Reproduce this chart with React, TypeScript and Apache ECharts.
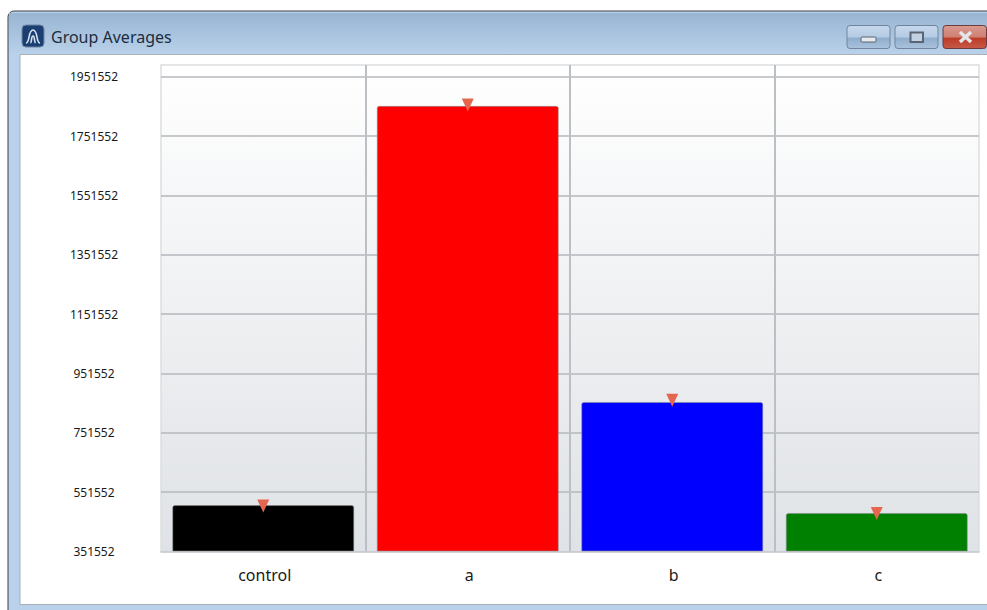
import React, { useEffect, useRef } from "react";
import * as echarts from "echarts";

const categories = ["control", "a", "b", "c"];
const groupAverages = [508000, 1853800, 855700, 481400];
const markerValues = [505000, 1857000, 861000, 480000];
const barColors = ["#000000", "#ff0000", "#0000ff", "#008000"];
const axisBase = 351552;
const title = "Group Averages";

echarts.graphic.registerShape(
  "winLogo",
  echarts.graphic.extendPath("M3 17 C7 17 5 4 10 4 C15 4 13 17 17 17 M7.5 17 C9 16 8 10 10 10 C12 10 11 16 12.5 17", {})
);

const btnGrad = new echarts.graphic.LinearGradient(0, 0, 0, 1, [
  { offset: 0, color: "#c6d8ec" },
  { offset: 0.5, color: "#b4cbe3" },
  { offset: 0.55, color: "#8fadcb" },
  { offset: 1, color: "#a9c3de" },
]);
const closeGrad = new echarts.graphic.LinearGradient(0, 0, 0, 1, [
  { offset: 0, color: "#d99a90" },
  { offset: 0.5, color: "#cf7f72" },
  { offset: 0.55, color: "#bd3a28" },
  { offset: 1, color: "#c85a48" },
]);
const glyphStroke = "#5a6474";

function chrome() {
  return [
    { type: "rect", z: -5, shape: { x: 8, y: 11, width: 985, height: 610, r: [6, 0, 0, 0] }, style: { fill: "#b9d1ea", stroke: "#3a3f45", lineWidth: 1 } },
    {
      type: "rect", z: -4, shape: { x: 9, y: 13, width: 980, height: 41 },
      style: { fill: new echarts.graphic.LinearGradient(0, 0, 0, 1, [{ offset: 0, color: "#98b5d3" }, { offset: 1, color: "#b9d1ea" }]) },
    },
    { type: "rect", z: -3, shape: { x: 20, y: 54.5, width: 970, height: 550 }, style: { fill: "#ffffff", stroke: "#a9afb5", lineWidth: 1 } },
    { type: "rect", z: 5, shape: { x: 22, y: 25, width: 22, height: 22, r: 4 }, style: { fill: "#1c3f73", stroke: "#6f86a3", lineWidth: 1 } },
    { type: "winLogo", z: 6, x: 23, y: 26, style: { fill: "none", stroke: "#d5e2ee", lineWidth: 1.6 } },
    { type: "text", z: 6, x: 51, y: 37, style: { text: title, font: "16px 'Noto Sans'", fill: "#202c3c", verticalAlign: "middle", align: "left" } },
    { type: "rect", z: 5, shape: { x: 847, y: 25.5, width: 43, height: 23, r: 3 }, style: { fill: btnGrad, stroke: "#72859c", lineWidth: 1 } },
    { type: "rect", z: 6, shape: { x: 861, y: 37, width: 15, height: 5, r: 1 }, style: { fill: "#e6e9ee", stroke: glyphStroke, lineWidth: 1 } },
    { type: "rect", z: 5, shape: { x: 895, y: 25.5, width: 43, height: 23, r: 3 }, style: { fill: btnGrad, stroke: "#72859c", lineWidth: 1 } },
    { type: "rect", z: 6, shape: { x: 910.5, y: 32.5, width: 12.5, height: 9.5 }, style: { fill: "#c3d2e2", stroke: glyphStroke, lineWidth: 2 } },
    { type: "rect", z: 5, shape: { x: 943, y: 25.5, width: 43.5, height: 23, r: 3 }, style: { fill: closeGrad, stroke: "#6d3a3e", lineWidth: 1 } },
    { type: "line", z: 6, shape: { x1: 960, y1: 32, x2: 971, y2: 42 }, style: { stroke: "#e4e6ea", lineWidth: 3.5 } },
    { type: "line", z: 6, shape: { x1: 971, y1: 32, x2: 960, y2: 42 }, style: { stroke: "#e4e6ea", lineWidth: 3.5 } },
  ];
}

export default function App() {
  const ref = useRef<HTMLDivElement>(null);
  useEffect(() => {
    document.body.style.margin = "0";
    const chart = echarts.init(ref.current!, null, { renderer: "svg" });
    chart.setOption({
      animation: false,
      backgroundColor: "#ffffff",
      graphic: { elements: chrome() },
      grid: {
        left: 161, top: 65, width: 818, height: 486.5, show: true,
        borderWidth: 1.5, borderColor: "#dcdee1",
        backgroundColor: new echarts.graphic.LinearGradient(0, 0, 0, 1, [
          { offset: 0, color: "#ffffff" },
          { offset: 1, color: "#dfe2e6" },
        ]),
      },
      xAxis: {
        type: "category",
        data: categories,
        axisLine: { show: true, lineStyle: { color: "#c4c7cb", width: 1.5 } },
        axisTick: { show: false },
        axisLabel: { color: "#1a1a1a", fontFamily: "Noto Sans", fontSize: 16, margin: 15, padding: [0, 0, 0, 3] },
        splitLine: { show: true, showMinLine: false, showMaxLine: false, lineStyle: { color: "#bcbfc4", width: 2 } },
      },
      yAxis: {
        type: "value",
        min: 0,
        max: 1640000,
        interval: 200000,
        axisLine: { show: false },
        axisTick: { show: false },
        axisLabel: {
          color: "#1a1a1a", fontFamily: "Noto Sans", fontSize: 12, align: "center", margin: 67,
          showMaxLabel: false,
          formatter: (v: number) => (v > 1600000 ? "" : String(v + axisBase)),
        },
        splitLine: { show: true, showMinLine: false, showMaxLine: false, lineStyle: { color: "#b4b7bc", width: 1.5 } },
      },
      series: [
        {
          type: "bar",
          barWidth: 182,
          z: 3,
          data: groupAverages.map((v, i) => ({
            value: v - axisBase,
            itemStyle: { color: barColors[i], borderRadius: [2, 2, 0, 0], borderColor: "rgba(140,140,140,0.55)", borderWidth: 1 },
          })),
        },
        {
          type: "scatter",
          z: 5,
          symbol: "triangle",
          symbolRotate: 180,
          symbolSize: [12, 13],
          itemStyle: { color: "#e5664f", opacity: 1 },
          data: markerValues.map((v, i) => [i, v - axisBase]),
        },
      ],
    });
    return () => chart.dispose();
  }, []);
  return <div ref={ref} style={{ width: 987, height: 610 }} />;
}
